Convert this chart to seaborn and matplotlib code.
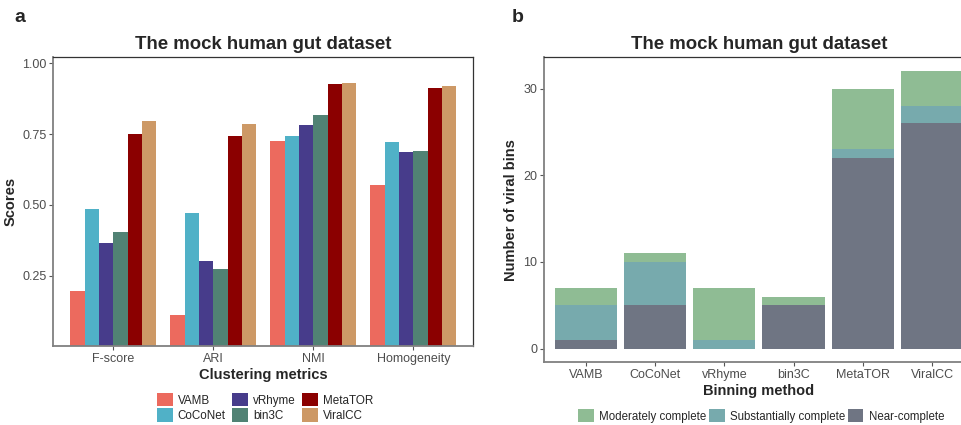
import pandas as pd
from matplotlib import pyplot as plt
from matplotlib.patches import Patch
import seaborn as sns

# panel a data
metrics = ['F-score', 'ARI', 'NMI', 'Homogeneity']
methods = ['VAMB', 'CoCoNet', 'vRhyme', 'bin3C', 'MetaTOR', 'ViralCC']
vamb = [0.197, 0.113, 0.725, 0.570]
coconet = [0.486, 0.472, 0.743, 0.722]
vrhyme = [0.366, 0.303, 0.782, 0.687]
bin3c = [0.405, 0.275, 0.817, 0.690]
metator = [0.750, 0.743, 0.926, 0.912]
viralcc = [0.796, 0.785, 0.930, 0.919]
method_colors = ['#EC6A5E', '#50B1C7', '#473C8B', '#518274', '#8B0000', '#CD9966']

# panel b data
near_complete = [1, 5, 0, 5, 22, 26]
substantially = [4, 5, 1, 0, 1, 2]
moderately = [2, 1, 6, 1, 7, 4]
quality_labels = ['Moderately complete', 'Substantially complete', 'Near-complete']
quality_colors = ['#8FBC94', '#77AAAD', '#6F7583']

sns.set_style('white')
plt.rcParams['font.family'] = ['Liberation Sans', 'DejaVu Sans']

scores = pd.DataFrame({
    'metric': metrics * 6,
    'method': [m for m in methods for _ in metrics],
    'score': vamb + coconet + vrhyme + bin3c + metator + viralcc,
})

fig = plt.figure(figsize=(9.61, 4.25), dpi=100)
ax1 = fig.add_axes([0.0555, 0.1866, 0.437, 0.6786])
ax2 = fig.add_axes([0.5664, 0.1475, 0.4467, 0.7177])

sns.barplot(data=scores, x='metric', y='score', hue='method', order=metrics,
            hue_order=methods, palette=dict(zip(methods, method_colors)),
            width=0.86, saturation=1, errorbar=None, legend=False,
            linewidth=0, edgecolor='none', ax=ax1)
ax1.set_xlim(-0.6, 3.6)
ax1.set_ylim(0.003, 1.021)
ax1.set_yticks([0.25, 0.50, 0.75, 1.00])
ax1.set_yticklabels(['0.25', '0.50', '0.75', '1.00'])
ax1.set_title('The mock human gut dataset', fontsize=13.4, fontweight='bold', pad=6)
ax1.set_xlabel('Clustering metrics', fontsize=10.5, fontweight='bold')
ax1.set_ylabel('Scores', fontsize=10.5, fontweight='bold')
ax1.xaxis.set_label_coords(0.5, -0.077)
ax1.yaxis.set_label_coords(-0.084, 0.5)

# stacked bars, drawn as layered cumulative totals
mid = [n + s for n, s in zip(near_complete, substantially)]
top = [m + d for m, d in zip(mid, moderately)]
for vals, col in zip([top, mid, near_complete], quality_colors):
    sns.barplot(x=methods, y=vals, order=methods, color=col, width=0.9,
                saturation=1, errorbar=None, linewidth=0, edgecolor='none', ax=ax2)
ax2.set_xlim(-0.6, 5.6)
ax2.set_ylim(-1.57, 33.6)
ax2.set_yticks([0, 10, 20, 30])
ax2.set_title('The mock human gut dataset', fontsize=13.4, fontweight='bold', pad=6)
ax2.set_xlabel('Binning method', fontsize=10.5, fontweight='bold')
ax2.set_ylabel('Number of viral bins', fontsize=10.5, fontweight='bold')
ax2.xaxis.set_label_coords(0.5, -0.071)
ax2.yaxis.set_label_coords(-0.061, 0.5)

for ax in (ax1, ax2):
    ax.tick_params(axis='both', labelsize=9, labelcolor='#4D4D4D', color='#555555',
                   length=3, width=0.8, direction='out', pad=2, bottom=True, left=True)
    for side in ('top', 'right'):
        ax.spines[side].set_color('#333333')
        ax.spines[side].set_linewidth(0.9)
    for side in ('left', 'bottom'):
        ax.spines[side].set_color('#808080')
        ax.spines[side].set_linewidth(1.3)
ax2.spines['right'].set_visible(False)

handles_a = [Patch(facecolor=c, edgecolor='none') for c in method_colors]
fig.legend(handles_a, methods, loc='center', bbox_to_anchor=(0.276, 0.041), ncol=3,
           frameon=False, fontsize=8.4, handlelength=1.35, handleheight=1.35,
           handletextpad=0.45, labelspacing=0.15, columnspacing=0.55, borderpad=0)

handles_b = [Patch(facecolor=c, edgecolor='none') for c in quality_colors]
fig.legend(handles_b, quality_labels, loc='center', bbox_to_anchor=(0.792, 0.021), ncol=3,
           frameon=False, fontsize=8.3, handlelength=1.35, handleheight=1.35,
           handletextpad=0.45, columnspacing=0.25, borderpad=0)

fig.text(0.0208, 0.958, 'a', fontsize=14, fontweight='bold', ha='center', va='center')
fig.text(0.539, 0.958, 'b', fontsize=14, fontweight='bold', ha='center', va='center')

plt.savefig('out.png', dpi=100)
